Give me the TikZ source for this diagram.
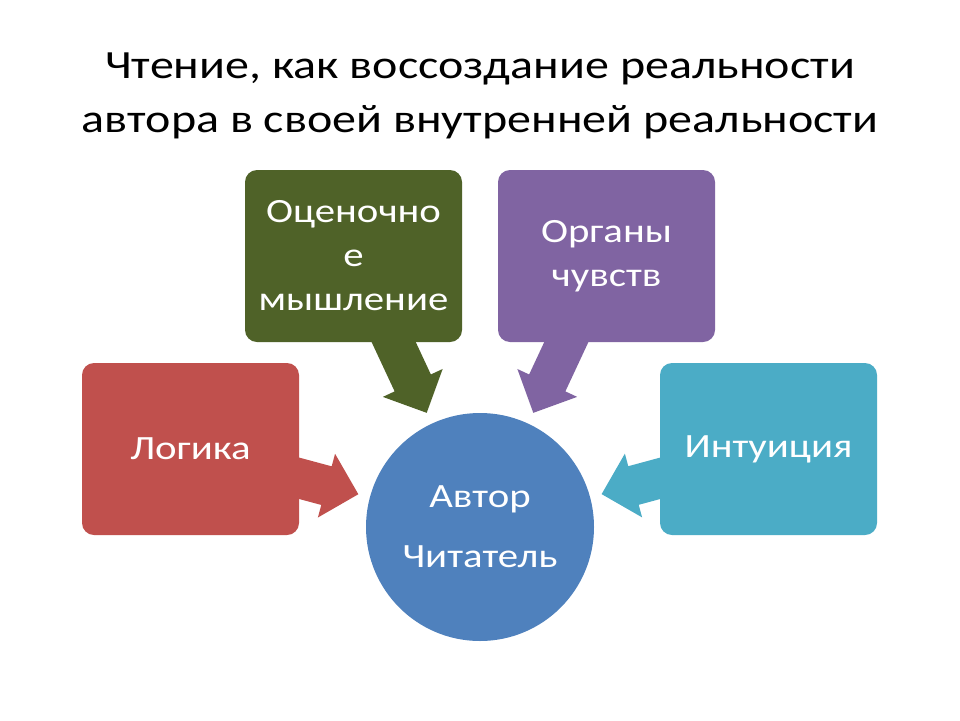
\documentclass[tikz,border=0pt]{standalone}
\usepackage{fontspec}
\setmainfont{Carlito}[FakeStretch=1.2]
\usetikzlibrary{calc}
\definecolor{cred}{HTML}{C0504D}
\definecolor{cgreen}{HTML}{4F6228}
\definecolor{cpurple}{HTML}{8064A2}
\definecolor{ccyan}{HTML}{4BACC6}
\definecolor{cblue}{HTML}{4F81BD}
\newcommand\blockarrow[3]{%
  \coordinate (#1-T) at ($(#2.center)!126pt!(#1.center)$);
  \coordinate (#1-M) at ($(#2.center)!159pt!(#1.center)$);
  \fill[#3] (#1-T)
    -- ($(#1-M)!33pt!90:(#1.center)$)
    -- ($(#1-M)!20pt!90:(#1.center)$)
    -- ($(#1.center)!20pt!-90:(#1-M)$)
    -- ($(#1.center)!20pt!90:(#1-M)$)
    -- ($(#1-M)!20pt!-90:(#1.center)$)
    -- ($(#1-M)!33pt!-90:(#1.center)$)
    -- cycle;}
\tikzset{
  box/.style={rectangle, rounded corners=12pt, minimum width=217pt, minimum height=172pt,
    inner sep=0pt, text=white, align=center, font=\fontsize{34}{44}\selectfont},
  hub/.style={circle, minimum size=228pt, inner sep=0pt, fill=cblue, text=white, align=center,
    font=\fontsize{34}{60}\selectfont},
  ttl/.style={anchor=base, text=black, font=\fontsize{40}{54}\selectfont, inner sep=0pt}
}
\begin{document}
\begin{tikzpicture}[x=1pt,y=-1pt]
\useasboundingbox[fill=white] (0,0) rectangle (960,720);
\node[ttl] (t1) at (480,78) {Чтение, как воссоздание реальности};
\node[ttl] (t2) at (480,132) {автора в своей внутренней реальности};
\node[hub] (hub) at (480,527) {Автор\\Читатель};
\path (353.5,256) coordinate (pg) (606.5,256) coordinate (pp) (190.5,449) coordinate (pr) (768.5,449) coordinate (pc);
\node[box, draw=none] (g) at (pg) {};
\node[box, draw=none] (p) at (pp) {};
\node[box, draw=none] (r) at (pr) {};
\node[box, draw=none] (cy) at (pc) {};
\blockarrow{g}{hub}{cgreen}
\blockarrow{p}{hub}{cpurple}
\blockarrow{r}{hub}{cred}
\blockarrow{cy}{hub}{ccyan}
\node[box, fill=cgreen] (gbox) at (pg) {Оценочно\\е\\мышление};
\node[box, fill=cpurple] (pbox) at (pp) {Органы\\чувств};
\node[box, fill=cred] (rbox) at (pr) {Логика};
\node[box, fill=ccyan] (cbox) at (pc) {Интуиция};
\end{tikzpicture}
\end{document}
